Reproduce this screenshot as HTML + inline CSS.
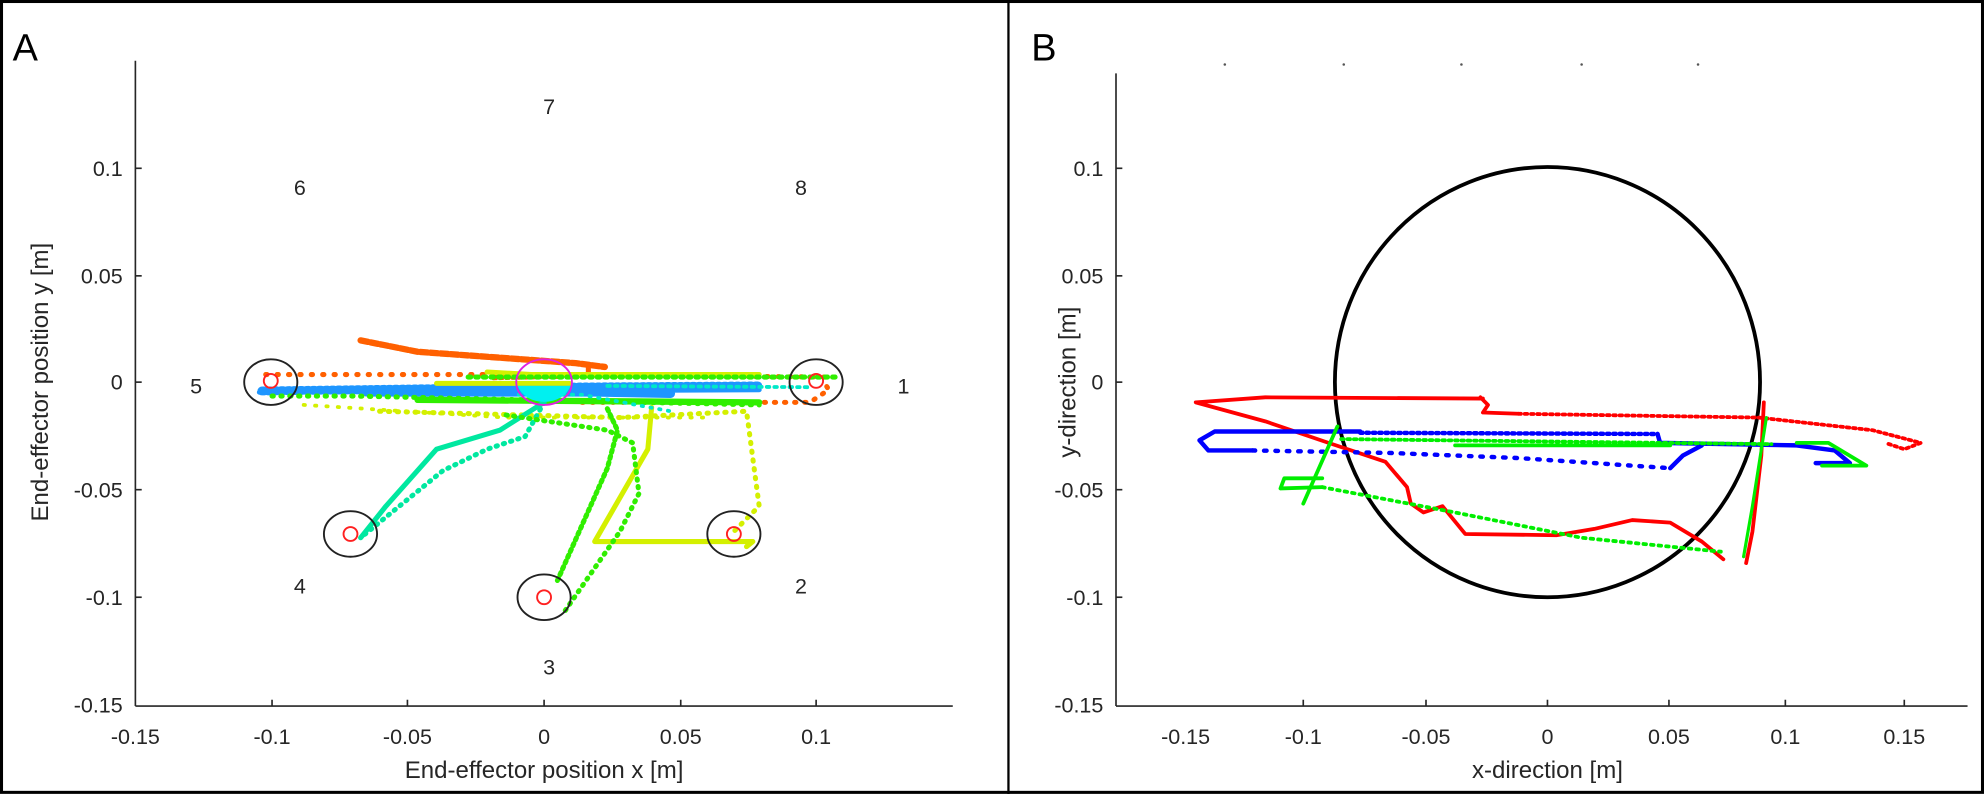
<!DOCTYPE html>
<html><head><meta charset="utf-8"><style>
html,body{margin:0;padding:0;background:#fff}
svg{display:block}
svg text{font-family:"Liberation Sans",Arial,sans-serif;fill:#262626}
</style></head><body>
<svg width="1984" height="794" viewBox="0 0 1568 627.5" preserveAspectRatio="none" xmlns="http://www.w3.org/2000/svg">
<rect x="1.2" y="1.2" width="1565.6" height="625" fill="#fff" stroke="#000" stroke-width="2.4"/>
<line x1="797" y1="0" x2="797" y2="627.5" stroke="#000" stroke-width="1.8"/>
<text x="10" y="48" style="font-size:30px;fill:#000">A</text>
<text x="815" y="48" style="font-size:30px;fill:#000">B</text>

<!-- Panel A axes -->
<g stroke="#262626" stroke-width="1.3" fill="none">
<line x1="107" y1="48" x2="107" y2="558"/>
<line x1="107" y1="558" x2="753" y2="558"/>
<line x1="107" y1="133" x2="112" y2="133"/><line x1="107" y1="218" x2="112" y2="218"/>
<line x1="107" y1="302" x2="112" y2="302"/><line x1="107" y1="387" x2="112" y2="387"/>
<line x1="107" y1="472" x2="112" y2="472"/>
<line x1="215" y1="558" x2="215" y2="553"/><line x1="322" y1="558" x2="322" y2="553"/>
<line x1="430" y1="558" x2="430" y2="553"/><line x1="538" y1="558" x2="538" y2="553"/>
<line x1="645" y1="558" x2="645" y2="553"/>
</g>
<g style="font-size:17px" text-anchor="end">
<text x="97" y="139">0.1</text><text x="97" y="224">0.05</text><text x="97" y="308">0</text>
<text x="97" y="393">-0.05</text><text x="97" y="478">-0.1</text><text x="97" y="563">-0.15</text>
</g>
<g style="font-size:17px" text-anchor="middle">
<text x="107" y="588">-0.15</text><text x="215" y="588">-0.1</text><text x="322" y="588">-0.05</text>
<text x="430" y="588">0</text><text x="538" y="588">0.05</text><text x="645" y="588">0.1</text>
<text x="430" y="615" style="font-size:19px">End-effector position x [m]</text>
<text transform="translate(38,302) rotate(-90)" style="font-size:19px">End-effector position y [m]</text>
<text x="714" y="311">1</text><text x="633" y="469">2</text><text x="434" y="533">3</text>
<text x="237" y="469">4</text><text x="155" y="311">5</text><text x="237" y="154">6</text>
<text x="434" y="90">7</text><text x="633" y="154">8</text>
</g>

<!-- Panel A trajectories -->
<g fill="none" stroke-linecap="round" stroke-linejoin="round">
<path d="M207,309 L430,306 L600,305" stroke="#1e96ff" stroke-width="7" stroke-dasharray="2 3"/>
<path d="M205,310 L600,308" stroke="#1e96ff" stroke-width="4"/>
<path d="M290,310 L470,310 L530,311" stroke="#1e96ff" stroke-width="7"/>
<path d="M210,296 L430,296 L655,298" stroke="#ff6000" stroke-width="4" stroke-dasharray="1 8"/>
<path d="M285,269 L330,278 L455,287 L478,290" stroke="#ff6000" stroke-width="5" stroke-dasharray="6 2"/>
<path d="M465,290 L465,297" stroke="#ff6000" stroke-width="4"/>
<path d="M460,318 L640,318 L655,308 L650,300" stroke="#ff6000" stroke-width="4" stroke-dasharray="1 7"/>
<path d="M390,299 L440,298" stroke="#ff6000" stroke-width="3" stroke-dasharray="2 3"/>
<path d="M385,294 L420,296 L600,296" stroke="#d4f000" stroke-width="4"/>
<path d="M345,303 L450,303" stroke="#d4f000" stroke-width="4"/>
<path d="M370,298 L660,298" stroke="#30ee00" stroke-width="4" stroke-dasharray="2 4"/>
<path d="M215,313 L280,313 L600,320" stroke="#30ee00" stroke-width="4" stroke-dasharray="1 6"/>
<path d="M330,316 L600,318" stroke="#30ee00" stroke-width="5"/>
<path d="M240,320 L400,330 L560,330" stroke="#d4f000" stroke-width="3" stroke-dasharray="1 8"/>
<path d="M300,325 L490,330 L590,325 L600,400 L580,420" stroke="#d4f000" stroke-width="4" stroke-dasharray="1 6"/>
<path d="M515,322 L512,355 L470,428 L595,428 L590,432" stroke="#d4f000" stroke-width="4"/>
<path d="M430,318 L415,345 L385,355 L350,372 L285,425" stroke="#00e8a0" stroke-width="4" stroke-dasharray="1 5"/>
<path d="M430,318 L395,340 L345,355 L305,400 L285,425" stroke="#00e8a0" stroke-width="4"/>
<path d="M480,323 L488,340 L480,370 L440,460" stroke="#30ee00" stroke-width="4" stroke-dasharray="2 3"/>
<path d="M400,328 L480,340 L500,350 L505,390 L490,420 L445,485" stroke="#30ee00" stroke-width="4" stroke-dasharray="1 5"/>
<path d="M410,312 L460,312 L530,325" stroke="#00e8c8" stroke-width="3" stroke-dasharray="1 6"/>
<path d="M480,305 L640,306" stroke="#00e8c8" stroke-width="3" stroke-dasharray="2 4"/>
</g>
<path d="M409,305 A22 18 0 0 0 451,305 Z" fill="#00f0f0"/>
<ellipse cx="430" cy="302" rx="22" ry="18" fill="none" stroke="#e020e0" stroke-width="1.5"/>
<g fill="none" stroke="#222" stroke-width="1.5">
<ellipse cx="214" cy="302" rx="21" ry="18"/><ellipse cx="645" cy="302" rx="21" ry="18"/>
<ellipse cx="277" cy="422" rx="21" ry="18"/><ellipse cx="580" cy="422" rx="21" ry="18"/>
<ellipse cx="430" cy="472" rx="21" ry="18"/>
</g>
<g fill="none" stroke="#ff2020" stroke-width="1.5">
<circle cx="214" cy="301" r="5.5"/><circle cx="645" cy="301" r="5.5"/>
<circle cx="277" cy="422" r="5.5"/><circle cx="580" cy="422" r="5.5"/><circle cx="430" cy="472" r="5.5"/>
</g>

<!-- Panel B axes -->
<g stroke="#262626" stroke-width="1.3" fill="none">
<line x1="882" y1="58" x2="882" y2="558"/>
<line x1="882" y1="558" x2="1555" y2="558"/>
<line x1="882" y1="133" x2="887" y2="133"/><line x1="882" y1="218" x2="887" y2="218"/>
<line x1="882" y1="302" x2="887" y2="302"/><line x1="882" y1="387" x2="887" y2="387"/>
<line x1="882" y1="472" x2="887" y2="472"/>
<line x1="1030" y1="558" x2="1030" y2="553"/><line x1="1127" y1="558" x2="1127" y2="553"/>
<line x1="1223" y1="558" x2="1223" y2="553"/><line x1="1319" y1="558" x2="1319" y2="553"/>
<line x1="1411" y1="558" x2="1411" y2="553"/><line x1="1505" y1="558" x2="1505" y2="553"/>
</g>
<g fill="#555"><circle cx="968" cy="51" r="1"/><circle cx="1062" cy="51" r="1"/><circle cx="1155" cy="51" r="1"/><circle cx="1250" cy="51" r="1"/><circle cx="1342" cy="51" r="1"/></g>
<g style="font-size:17px" text-anchor="end">
<text x="872" y="139">0.1</text><text x="872" y="224">0.05</text><text x="872" y="308">0</text>
<text x="872" y="393">-0.05</text><text x="872" y="478">-0.1</text><text x="872" y="563">-0.15</text>
</g>
<g style="font-size:17px" text-anchor="middle">
<text x="937" y="588">-0.15</text><text x="1030" y="588">-0.1</text><text x="1127" y="588">-0.05</text>
<text x="1223" y="588">0</text><text x="1319" y="588">0.05</text><text x="1411" y="588">0.1</text><text x="1505" y="588">0.15</text>
<text x="1223" y="615" style="font-size:19px">x-direction [m]</text>
<text transform="translate(850,302) rotate(-90)" style="font-size:19px">y-direction [m]</text>
</g>
<ellipse cx="1223" cy="302" rx="168" ry="170" fill="none" stroke="#000" stroke-width="3"/>
<g fill="none" stroke-linecap="round" stroke-linejoin="round">
<path d="M1172,315 L1000,314 L945,318 L1000,333 L1050,350 L1095,365 L1112,385 L1115,398 L1125,405 L1140,400 L1158,422 L1230,423 L1260,418 L1290,411 L1320,413 L1345,428 L1362,442" stroke="#f00" stroke-width="3"/>
<path d="M1170,314 L1176,320 L1172,326 L1200,327" stroke="#f00" stroke-width="3"/>
<path d="M1200,327 L1390,330 L1480,340 L1518,350 L1505,355 L1490,350" stroke="#f00" stroke-width="3" stroke-dasharray="2 3"/>
<path d="M1394,318 L1392,360 L1385,420 L1380,445" stroke="#f00" stroke-width="3"/>
<path d="M1075,341 L960,341 L948,348 L955,356 L990,356" stroke="#0000ff" stroke-width="3.5"/>
<path d="M990,356 L1100,358 L1200,362 L1320,370" stroke="#0000ff" stroke-width="3.5" stroke-dasharray="2 7"/>
<path d="M1075,342 L1310,343" stroke="#0000ff" stroke-width="3.5" stroke-dasharray="2 3"/>
<path d="M1310,343 L1312,350 L1420,352 L1450,356 L1462,366 L1435,366" stroke="#0000ff" stroke-width="3.5"/>
<path d="M1320,370 L1330,360 L1345,352" stroke="#0000ff" stroke-width="3.5"/>
<path d="M1060,347 L1400,351" stroke="#00ee00" stroke-width="3" stroke-dasharray="2 3"/>
<path d="M1150,352 L1320,352" stroke="#00ee00" stroke-width="3"/>
<path d="M1420,350 L1445,350 L1475,368 L1440,368" stroke="#00ee00" stroke-width="3"/>
<path d="M1057,337 L1030,398" stroke="#00ee00" stroke-width="3"/>
<path d="M1045,378 L1015,378 L1012,386 L1045,385" stroke="#00ee00" stroke-width="3"/>
<path d="M1045,385 L1150,405 L1250,425 L1360,436" stroke="#00ee00" stroke-width="3" stroke-dasharray="2 4"/>
<path d="M1396,330 L1385,400 L1378,440" stroke="#00ee00" stroke-width="2.5"/>
</g>
</svg>
</body></html>
